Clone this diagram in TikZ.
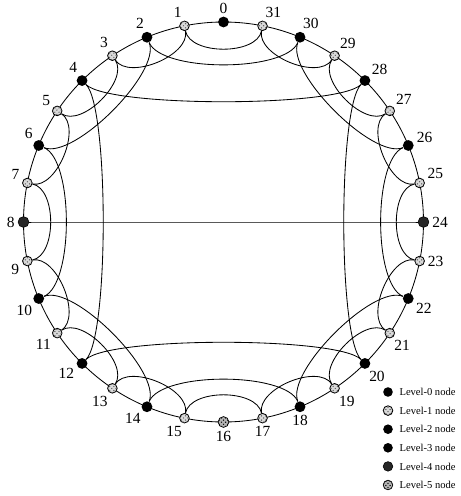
\documentclass[tikz,border=0pt]{standalone}
\usepackage{fontspec}
\setmainfont{Liberation Serif}
\usetikzlibrary{positioning,patterns}
\tikzset{
  ringline/.style={line width=0.6pt},
  chord/.style={line width=0.6pt},
  dotnode/.style={circle,inner sep=0pt,minimum size=0.27cm},
  lvzero/.style={dotnode,fill=black},
  lvone/.style={dotnode,draw=black,line width=0.6pt,fill=gray!30,
    minimum size=0.24cm,postaction={pattern=crosshatch dots,pattern color=gray!70!black}},
  lvtwo/.style={dotnode,fill=black},
  lvthree/.style={dotnode,fill=black},
  lvfour/.style={dotnode,fill=black!85,draw=black,line width=0.4pt},
  lvfive/.style={dotnode,fill=gray!60,draw=black,line width=0.5pt,
    postaction={pattern=crosshatch dots,pattern color=black}},
  numlabel/.style={inner sep=1pt,label distance=1pt},
  keytext/.style={inner sep=1pt,font=\fontsize{7.5}{9}\selectfont},
}
\begin{document}
\begin{tikzpicture}[font=\fontsize{11}{13}\selectfont]
  \useasboundingbox (-5.5875,-6.85) rectangle (5.9375,5.55);
  % outer ring
  \draw[ringline] (0,0) circle (5cm);
  % the 32 nodes
  \foreach \i/\lv/\la in {0/lvzero/90, 1/lvone/100, 2/lvtwo/102, 3/lvone/115,
      4/lvthree/118, 5/lvone/144, 6/lvtwo/130, 7/lvone/160, 8/lvfour/180,
      9/lvone/192, 10/lvtwo/225, 11/lvone/225, 12/lvthree/208, 13/lvone/242,
      14/lvtwo/228, 15/lvone/262, 16/lvfive/270, 17/lvone/270, 18/lvtwo/270,
      19/lvone/295, 20/lvthree/292, 21/lvone/297, 22/lvtwo/332, 23/lvone/0,
      24/lvfour/0, 25/lvone/20, 26/lvtwo/12, 27/lvone/45, 28/lvthree/42,
      29/lvone/54, 30/lvtwo/78, 31/lvone/78}
    \node[\lv,label={[numlabel]\la:\i}] (n\i) at ({90+11.25*\i}:5) {};
  % links between levels
  \foreach \i/\j/\r in {1/3/4.25, 3/5/4.25, 5/7/4.25, 7/9/4.25, 9/11/4.25,
      11/13/4.25, 13/15/4.25, 15/17/4.25, 17/19/4.25, 19/21/4.25, 21/23/4.25,
      23/25/4.25, 25/27/4.25, 27/29/4.25, 29/31/4.25, 31/1/4.25,
      2/6/4.05, 6/10/4.05, 10/14/4.05, 14/18/4.05, 18/22/4.05, 22/26/4.05,
      26/30/4.05, 30/2/4.05, 4/12/4.05, 12/20/4.05, 20/28/4.05, 28/4/4.05,
      8/24/4.05}
    \draw[chord] (n\i) .. controls ({90+11.25*\i}:\r) and ({90+11.25*\j}:\r) .. (n\j);
  % legend
  \foreach \lv [count=\k from 0] in {lvzero,lvone,lvtwo,lvthree,lvfour,lvfive} {
    \node[\lv,minimum size=0.24cm] (key\k) at (4.1125,{-4.25-0.465*\k}) {};
    \node[keytext,right=1.2mm of key\k] (keytxt\k) {Level-\k\ node};
  }
\end{tikzpicture}
\end{document}
